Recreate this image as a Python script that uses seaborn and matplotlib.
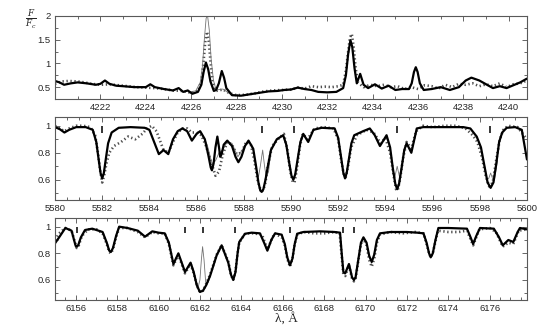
import matplotlib
matplotlib.use("Agg")
import matplotlib.pyplot as plt
from matplotlib.ticker import MultipleLocator, FuncFormatter
import seaborn as sns
import pandas as pd

# ---------------- panel 1: 4220-4241 A ----------------
top_obs_x = [4220.0, 4220.3, 4220.6, 4221.0, 4221.3, 4221.6, 4222.0, 4222.4, 4222.8, 4223.2,
             4223.6, 4224.0, 4224.4, 4224.8, 4225.2, 4225.6, 4226.0, 4226.3, 4226.45, 4226.55,
             4226.62, 4226.7, 4226.78, 4226.86, 4226.95, 4227.1, 4227.4, 4227.7, 4228.0, 4228.4,
             4228.8, 4229.2, 4229.6, 4230.0, 4230.4, 4230.7, 4231.0, 4231.3, 4231.6, 4231.9,
             4232.2, 4232.5, 4232.7, 4232.82, 4232.92, 4233.0, 4233.08, 4233.16, 4233.25, 4233.35,
             4233.6, 4233.9, 4234.2, 4234.5, 4234.8, 4235.1, 4235.4, 4235.7, 4236.0, 4236.3,
             4236.6, 4236.9, 4237.2, 4237.5, 4237.8, 4238.1, 4238.4, 4238.7, 4239.0, 4239.3,
             4239.6, 4239.9, 4240.2, 4240.5, 4240.8]
top_obs_y = [0.57, 0.62, 0.63, 0.62, 0.60, 0.57, 0.55, 0.56, 0.54, 0.52,
             0.50, 0.49, 0.48, 0.46, 0.43, 0.42, 0.38, 0.42, 0.62, 1.05,
             1.45, 1.67, 1.45, 1.00, 0.62, 0.42, 0.45, 0.37, 0.33, 0.34,
             0.37, 0.41, 0.43, 0.44, 0.45, 0.49, 0.47, 0.52, 0.50, 0.51,
             0.50, 0.52, 0.55, 0.85, 1.25, 1.55, 1.62, 1.35, 0.90, 0.60,
             0.50, 0.55, 0.52, 0.55, 0.50, 0.52, 0.46, 0.50, 0.46, 0.54,
             0.52, 0.47, 0.55, 0.50, 0.57, 0.55, 0.58, 0.52, 0.56, 0.52,
             0.58, 0.50, 0.56, 0.58, 0.64]
top_fit_x = [4220.0, 4220.2, 4220.4, 4220.7, 4221.0, 4221.4, 4221.8, 4222.0, 4222.2, 4222.4,
             4222.7, 4223.0, 4223.5, 4224.0, 4224.2, 4224.4, 4224.8, 4225.2, 4225.45, 4225.65,
             4225.85, 4226.05, 4226.3, 4226.45, 4226.55, 4226.65, 4226.75, 4226.85, 4227.0, 4227.1,
             4227.22, 4227.35, 4227.45, 4227.55, 4227.8, 4228.2, 4228.6, 4229.0, 4229.4, 4229.8,
             4230.1, 4230.4, 4230.7, 4231.0, 4231.3, 4231.6, 4232.0, 4232.4, 4232.7, 4232.82,
             4232.92, 4233.02, 4233.1, 4233.2, 4233.3, 4233.45, 4233.6, 4233.8, 4234.1, 4234.4,
             4234.7, 4235.0, 4235.3, 4235.6, 4235.72, 4235.82, 4235.9, 4235.98, 4236.08, 4236.25,
             4236.6, 4237.0, 4237.4, 4237.8, 4238.1, 4238.35, 4238.7, 4239.0, 4239.3, 4239.6,
             4239.9, 4240.2, 4240.5, 4240.8]
top_fit_y = [0.63, 0.60, 0.55, 0.58, 0.60, 0.58, 0.55, 0.57, 0.64, 0.57,
             0.53, 0.52, 0.50, 0.50, 0.56, 0.50, 0.46, 0.43, 0.48, 0.40,
             0.43, 0.36, 0.40, 0.55, 0.82, 1.02, 0.88, 0.62, 0.42, 0.44,
             0.58, 0.84, 0.70, 0.48, 0.33, 0.32, 0.35, 0.38, 0.41, 0.42,
             0.44, 0.45, 0.49, 0.46, 0.44, 0.40, 0.39, 0.40, 0.48, 0.75,
             1.20, 1.49, 1.35, 0.90, 0.58, 0.78, 0.55, 0.48, 0.56, 0.47,
             0.53, 0.44, 0.46, 0.46, 0.58, 0.82, 0.92, 0.82, 0.58, 0.44,
             0.46, 0.50, 0.44, 0.50, 0.64, 0.70, 0.64, 0.56, 0.48, 0.52,
             0.48, 0.54, 0.60, 0.68]
top_thin_x = [4225.9, 4226.2, 4226.4, 4226.5, 4226.58, 4226.66, 4226.72, 4226.8, 4226.88, 4226.98,
              4227.1, 4227.4, 4227.7, 4228.0]
top_thin_y = [0.40, 0.42, 0.60, 0.95, 1.50, 1.95, 2.02, 1.70, 1.10, 0.65,
              0.44, 0.46, 0.36, 0.33]
top_thin_seg = [0] * len(top_thin_x)

# ---------------- panel 2: 5580-5600 A ----------------
mid_obs_x = [5580.0, 5580.2, 5580.4, 5580.6, 5580.9, 5581.2, 5581.5, 5581.7, 5581.82, 5581.92,
             5582.0, 5582.08, 5582.18, 5582.3, 5582.5, 5582.8, 5583.1, 5583.4, 5583.7, 5583.9,
             5584.1, 5584.3, 5584.45, 5584.6, 5584.8, 5585.0, 5585.2, 5585.4, 5585.6, 5585.8,
             5586.0, 5586.2, 5586.4, 5586.6, 5586.8, 5586.95, 5587.1, 5587.3, 5587.5, 5587.7,
             5587.9, 5588.1, 5588.3, 5588.45, 5588.58, 5588.7, 5588.8, 5588.9, 5589.02, 5589.2,
             5589.5, 5589.7, 5589.85, 5589.97, 5590.08, 5590.15, 5590.25, 5590.38, 5590.5, 5590.7,
             5591.0, 5591.4, 5591.8, 5592.0, 5592.13, 5592.25, 5592.32, 5592.42, 5592.55, 5592.8,
             5593.2, 5593.5, 5593.8, 5594.0, 5594.2, 5594.35, 5594.45, 5594.52, 5594.62, 5594.75,
             5594.9, 5595.1, 5595.3, 5595.6, 5596.0, 5596.5, 5597.0, 5597.4, 5597.7, 5597.9,
             5598.1, 5598.25, 5598.4, 5598.55, 5598.7, 5598.85, 5599.0, 5599.2, 5599.6, 5600.0]
mid_obs_y = [1.00, 0.98, 0.96, 0.98, 1.00, 1.00, 0.99, 0.93, 0.80, 0.66,
             0.58, 0.63, 0.72, 0.80, 0.85, 0.88, 0.92, 0.90, 0.94, 0.98,
             1.00, 0.96, 0.89, 0.82, 0.80, 0.88, 0.95, 0.98, 0.98, 0.95,
             0.95, 0.93, 0.85, 0.74, 0.63, 0.66, 0.78, 0.88, 0.86, 0.79,
             0.80, 0.88, 0.86, 0.74, 0.60, 0.53, 0.52, 0.56, 0.70, 0.85,
             0.91, 0.94, 0.82, 0.66, 0.58, 0.58, 0.68, 0.85, 0.94, 0.90,
             0.98, 0.99, 0.98, 0.90, 0.74, 0.63, 0.62, 0.70, 0.84, 0.93,
             0.97, 0.95, 0.87, 0.91, 0.80, 0.63, 0.53, 0.52, 0.60, 0.76,
             0.88, 0.83, 0.96, 1.00, 0.99, 1.00, 1.00, 0.98, 0.93, 0.88,
             0.76, 0.63, 0.55, 0.58, 0.75, 0.90, 0.97, 1.00, 0.99, 0.90]
mid_fit_x = [5580.0, 5580.2, 5580.4, 5580.6, 5580.9, 5581.3, 5581.6, 5581.75, 5581.85, 5581.93,
             5582.0, 5582.07, 5582.15, 5582.25, 5582.4, 5582.7, 5583.2, 5583.8, 5584.0, 5584.2,
             5584.4, 5584.6, 5584.8, 5585.0, 5585.2, 5585.4, 5585.6, 5585.8, 5586.0, 5586.15,
             5586.35, 5586.5, 5586.6, 5586.65, 5586.72, 5586.8, 5586.88, 5586.95, 5587.0, 5587.06,
             5587.15, 5587.3, 5587.5, 5587.65, 5587.77, 5587.9, 5588.05, 5588.2, 5588.4, 5588.52,
             5588.62, 5588.7, 5588.76, 5588.83, 5588.92, 5589.02, 5589.15, 5589.4, 5589.67, 5589.8,
             5589.92, 5590.02, 5590.1, 5590.18, 5590.28, 5590.4, 5590.52, 5590.73, 5590.95, 5591.3,
             5591.85, 5592.0, 5592.12, 5592.22, 5592.29, 5592.36, 5592.46, 5592.56, 5592.68, 5593.06,
             5593.34, 5593.55, 5593.77, 5594.05, 5594.2, 5594.32, 5594.42, 5594.5, 5594.58, 5594.68,
             5594.8, 5594.9, 5595.1, 5595.33, 5595.6, 5596.5, 5597.3, 5597.6, 5597.87, 5598.05,
             5598.2, 5598.33, 5598.46, 5598.58, 5598.7, 5598.82, 5598.95, 5599.14, 5599.5, 5599.78,
             5600.0]
mid_fit_y = [0.99, 0.975, 0.95, 0.97, 0.99, 0.99, 0.97, 0.88, 0.75, 0.65,
             0.61, 0.65, 0.75, 0.87, 0.95, 0.985, 0.99, 0.985, 0.97, 0.88,
             0.79, 0.82, 0.79, 0.90, 0.96, 0.98, 0.96, 0.89, 0.94, 0.96,
             0.90, 0.78, 0.69, 0.67, 0.72, 0.84, 0.92, 0.84, 0.77, 0.79,
             0.86, 0.89, 0.85, 0.77, 0.73, 0.77, 0.85, 0.89, 0.83, 0.70,
             0.58, 0.52, 0.51, 0.53, 0.60, 0.70, 0.82, 0.90, 0.93, 0.86,
             0.73, 0.63, 0.60, 0.64, 0.75, 0.88, 0.94, 0.88, 0.97, 0.985,
             0.98, 0.91, 0.77, 0.65, 0.61, 0.65, 0.76, 0.87, 0.93, 0.96,
             0.98, 0.93, 0.85, 0.93, 0.84, 0.68, 0.57, 0.53, 0.57, 0.68,
             0.82, 0.87, 0.80, 0.98, 0.99, 0.99, 0.99, 0.98, 0.92, 0.84,
             0.70, 0.58, 0.54, 0.58, 0.72, 0.88, 0.95, 0.985, 0.99, 0.97,
             0.75]
mid_thin_x = [5586.2, 5586.45, 5586.65, 5586.8, 5586.95, 5587.1, 5587.3, 5587.5, 5587.75, 5588.0,
              5588.2, 5588.4, 5588.52, 5588.62, 5588.7, 5588.8, 5588.88, 5588.95, 5589.05, 5589.15,
              5589.4,
              5594.2, 5594.32, 5594.4, 5594.5, 5594.6, 5594.68, 5594.8,
              5598.2, 5598.3, 5598.38, 5598.46, 5598.54, 5598.62, 5598.75]
mid_thin_y = [0.95, 0.86, 0.72, 0.74, 0.80, 0.82, 0.88, 0.87, 0.77, 0.84,
              0.89, 0.82, 0.68, 0.62, 0.70, 0.82, 0.70, 0.62, 0.66, 0.82,
              0.90,
              0.84, 0.66, 0.62, 0.70, 0.62, 0.66, 0.82,
              0.70, 0.60, 0.61, 0.65, 0.61, 0.60, 0.74]
mid_thin_seg = [0] * 21 + [1] * 7 + [2] * 7
mid_marks = [5582.0, 5588.76, 5590.13, 5594.5, 5598.45]

# ---------------- panel 3: 6155-6178 A ----------------
bot_obs_x = [6155.0, 6155.2, 6155.5, 6155.8, 6155.95, 6156.05, 6156.15, 6156.3, 6156.6, 6157.0,
             6157.3, 6157.5, 6157.62, 6157.7, 6157.8, 6157.95, 6158.1, 6158.5, 6159.0, 6159.35,
             6159.7, 6160.0, 6160.3, 6160.5, 6160.72, 6160.96, 6161.28, 6161.55, 6161.7, 6161.85,
             6162.0, 6162.15, 6162.3, 6162.49, 6162.81, 6163.05, 6163.37, 6163.5, 6163.61, 6163.72,
             6163.82, 6163.9, 6164.2, 6164.6, 6165.0, 6165.26, 6165.6, 6165.95, 6166.1, 6166.22,
             6166.35, 6166.47, 6166.58, 6166.7, 6167.0, 6167.5, 6168.0, 6168.5, 6168.75, 6168.85,
             6168.93, 6169.02, 6169.2, 6169.35, 6169.44, 6169.52, 6169.65, 6169.78, 6169.9, 6170.05,
             6170.18, 6170.3, 6170.42, 6170.55, 6170.7, 6171.2, 6171.8, 6172.4, 6172.8, 6172.95,
             6173.07, 6173.15, 6173.25, 6173.38, 6173.5, 6174.0, 6174.5, 6174.9, 6175.2, 6175.5,
             6176.0, 6176.3, 6176.63, 6176.9, 6177.14, 6177.4, 6177.8]
bot_obs_y = [0.90, 0.95, 0.99, 0.97, 0.89, 0.84, 0.86, 0.93, 0.98, 0.98,
             0.95, 0.87, 0.81, 0.80, 0.83, 0.92, 0.99, 0.99, 0.96, 0.92,
             0.96, 0.95, 0.95, 0.87, 0.71, 0.79, 0.65, 0.72, 0.65, 0.56,
             0.51, 0.52, 0.57, 0.64, 0.79, 0.86, 0.74, 0.64, 0.60, 0.67,
             0.80, 0.88, 0.95, 0.95, 0.94, 0.83, 0.95, 0.92, 0.86, 0.76,
             0.70, 0.76, 0.87, 0.94, 0.96, 0.95, 0.95, 0.96, 0.95, 0.78,
             0.64, 0.63, 0.71, 0.61, 0.59, 0.61, 0.74, 0.87, 0.91, 0.86,
             0.75, 0.70, 0.76, 0.88, 0.94, 0.96, 0.95, 0.96, 0.95, 0.87,
             0.80, 0.77, 0.80, 0.89, 0.97, 0.96, 0.96, 0.97, 0.86, 0.98,
             0.99, 0.96, 0.85, 0.88, 0.87, 0.97, 0.98]
bot_fit_x = [6155.0, 6155.2, 6155.5, 6155.8, 6155.92, 6156.0, 6156.05, 6156.12, 6156.25, 6156.45,
             6156.8, 6157.3, 6157.5, 6157.62, 6157.7, 6157.8, 6157.95, 6158.1, 6158.5, 6159.0,
             6159.35, 6159.7, 6160.0, 6160.3, 6160.5, 6160.72, 6160.96, 6161.28, 6161.55, 6161.7,
             6161.85, 6162.0, 6162.15, 6162.3, 6162.49, 6162.81, 6163.05, 6163.37, 6163.5, 6163.61,
             6163.72, 6163.82, 6163.9, 6164.18, 6164.5, 6164.9, 6165.1, 6165.26, 6165.45, 6165.63,
             6165.95, 6166.1, 6166.22, 6166.35, 6166.47, 6166.58, 6166.7, 6167.0, 6167.8, 6168.5,
             6168.77, 6168.85, 6168.93, 6169.02, 6169.2, 6169.35, 6169.44, 6169.52, 6169.65, 6169.78,
             6169.9, 6170.05, 6170.18, 6170.3, 6170.42, 6170.55, 6170.7, 6171.2, 6172.0, 6172.5,
             6172.8, 6172.95, 6173.07, 6173.15, 6173.25, 6173.38, 6173.52, 6174.0, 6174.9, 6175.05,
             6175.2, 6175.35, 6175.53, 6176.2, 6176.45, 6176.63, 6176.9, 6177.14, 6177.35, 6177.46,
             6177.8]
bot_fit_y = [0.875, 0.92, 0.99, 0.97, 0.90, 0.855, 0.85, 0.86, 0.92, 0.975,
             0.985, 0.96, 0.88, 0.82, 0.81, 0.84, 0.93, 1.00, 0.99, 0.97,
             0.925, 0.965, 0.955, 0.95, 0.88, 0.72, 0.80, 0.66, 0.73, 0.66,
             0.56, 0.51, 0.52, 0.56, 0.63, 0.785, 0.86, 0.73, 0.64, 0.60,
             0.66, 0.80, 0.885, 0.947, 0.955, 0.95, 0.88, 0.82, 0.90, 0.95,
             0.94, 0.87, 0.77, 0.71, 0.76, 0.87, 0.947, 0.96, 0.965, 0.96,
             0.955, 0.80, 0.66, 0.65, 0.72, 0.62, 0.60, 0.62, 0.75, 0.88,
             0.92, 0.88, 0.78, 0.735, 0.79, 0.90, 0.95, 0.96, 0.96, 0.955,
             0.95, 0.88, 0.80, 0.77, 0.80, 0.90, 0.99, 0.99, 0.985, 0.93,
             0.87, 0.93, 0.99, 0.985, 0.92, 0.86, 0.90, 0.885, 0.96, 0.99,
             0.98]
bot_thin_x = [6161.6, 6161.78, 6161.92, 6162.0, 6162.07, 6162.13, 6162.2, 6162.28, 6162.4, 6162.55]
bot_thin_y = [0.71, 0.60, 0.55, 0.60, 0.75, 0.85, 0.75, 0.58, 0.58, 0.66]
bot_thin_seg = [0] * len(bot_thin_x)
bot_marks = [6156.05, 6161.28, 6162.13, 6163.7, 6166.35, 6168.93, 6169.44]

sns.set_style("ticks")
plt.rcParams['font.family'] = ['Liberation Sans', 'DejaVu Sans']
plt.rcParams['mathtext.fontset'] = 'dejavuserif'

fig = plt.figure(figsize=(5.55, 3.34), dpi=100)

panels = [
    dict(rect=[0.0991, 0.7036, 0.8504, 0.2485], xlim=(4220, 4240.8), ylim=(0.25, 2.0),
         xmaj=2, xmin=1, ymaj=0.5, ymin=0.25, hide_first=True,
         obs=(top_obs_x, top_obs_y), fit=(top_fit_x, top_fit_y),
         thin=(top_thin_x, top_thin_y, top_thin_seg), marks=[]),
    dict(rect=[0.0991, 0.4012, 0.8504, 0.2485], xlim=(5580, 5600), ylim=(0.45, 1.065),
         xmaj=2, xmin=0.5, ymaj=0.2, ymin=0.1, hide_first=False,
         obs=(mid_obs_x, mid_obs_y), fit=(mid_fit_x, mid_fit_y),
         thin=(mid_thin_x, mid_thin_y, mid_thin_seg), marks=mid_marks),
    dict(rect=[0.0991, 0.1018, 0.8504, 0.2455], xlim=(6155, 6177.8), ylim=(0.45, 1.065),
         xmaj=2, xmin=0.5, ymaj=0.2, ymin=0.1, hide_first=False,
         obs=(bot_obs_x, bot_obs_y), fit=(bot_fit_x, bot_fit_y),
         thin=(bot_thin_x, bot_thin_y, bot_thin_seg), marks=bot_marks),
]

for p in panels:
    ax = fig.add_axes(p['rect'])
    obs = pd.DataFrame({'x': p['obs'][0], 'y': p['obs'][1]})
    fit = pd.DataFrame({'x': p['fit'][0], 'y': p['fit'][1]})
    thin = pd.DataFrame({'x': p['thin'][0], 'y': p['thin'][1], 'seg': p['thin'][2]})

    # observed spectrum: dense dots
    sns.lineplot(data=obs, x='x', y='y', ax=ax, sort=False, estimator=None,
                 color='0.3', lw=1.9, linestyle=(0, (0.5, 1.0)))
    sns.lineplot(data=thin, x='x', y='y', units='seg', ax=ax, sort=False, estimator=None,
                 color='0.45', lw=0.6)
    sns.lineplot(data=fit, x='x', y='y', ax=ax, sort=False, estimator=None,
                 color='black', lw=1.6)
    if p['marks']:
        ax.vlines(p['marks'], 0.95, 0.995, color='black', lw=1.1)

    ax.set_xlim(*p['xlim'])
    ax.set_ylim(*p['ylim'])
    ax.xaxis.set_major_locator(MultipleLocator(p['xmaj']))
    ax.xaxis.set_minor_locator(MultipleLocator(p['xmin']))
    ax.yaxis.set_major_locator(MultipleLocator(p['ymaj']))
    ax.yaxis.set_minor_locator(MultipleLocator(p['ymin']))
    x0 = p['xlim'][0]
    hide = p['hide_first']
    ax.xaxis.set_major_formatter(FuncFormatter(
        lambda v, pos, x0=x0, hide=hide: '' if (hide and abs(v - x0) < 1e-6) else '%d' % round(v)))
    ax.yaxis.set_major_formatter(FuncFormatter(lambda v, pos: '%g' % round(v, 2)))
    ax.tick_params(which='both', direction='in', top=True, right=True,
                   labelsize=6.8, width=0.6, color='0.3', pad=3)
    ax.tick_params(which='major', length=3.5)
    ax.tick_params(which='minor', length=2)
    for s in ax.spines.values():
        s.set_color('0.35')
        s.set_linewidth(0.8)
    ax.set_xlabel('')
    ax.set_ylabel('')

fig.text(0.056, 0.943, r'$\frac{F}{F_c}$', fontsize=9, ha='center', va='center')
fig.text(286 / 555, 1 - 319 / 334, 'λ, Å', family=['Liberation Serif', 'DejaVu Serif'],
         fontsize=9.5, ha='center', va='center')

fig.savefig('out.png', dpi=100)
